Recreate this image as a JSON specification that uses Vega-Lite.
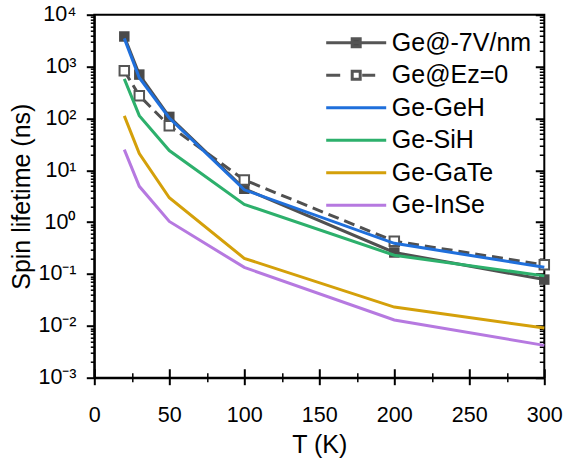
{
  "$schema": "https://vega.github.io/schema/vega-lite/v6.json",
  "autosize": "none",
  "width": 450,
  "height": 363,
  "padding": {"left": 94.3, "top": 14.7, "right": 19.7, "bottom": 84.3},
  "background": "white",
  "config": {
    "font": "Liberation Sans",
    "view": {"stroke": "black", "strokeWidth": 2},
    "axis": {
      "domainColor": "black",
      "domainWidth": 2,
      "tickColor": "black",
      "labelColor": "black",
      "labelFont": "Liberation Sans",
      "labelFontSize": 21.5,
      "titleFont": "Liberation Sans",
      "titleFontSize": 25,
      "titleFontWeight": "normal",
      "titleColor": "black",
      "gridColor": "black",
      "gridOpacity": 1
    }
  },
  "data": {
    "values": [
      {"series": "Ge@-7V/nm", "T": 20, "tau": 3800},
      {"series": "Ge@-7V/nm", "T": 30, "tau": 700},
      {"series": "Ge@-7V/nm", "T": 50, "tau": 107},
      {"series": "Ge@-7V/nm", "T": 100, "tau": 4.4},
      {"series": "Ge@-7V/nm", "T": 200, "tau": 0.26},
      {"series": "Ge@-7V/nm", "T": 300, "tau": 0.078},
      {"series": "Ge@Ez=0", "T": 20, "tau": 830},
      {"series": "Ge@Ez=0", "T": 30, "tau": 275},
      {"series": "Ge@Ez=0", "T": 50, "tau": 72},
      {"series": "Ge@Ez=0", "T": 100, "tau": 6.5},
      {"series": "Ge@Ez=0", "T": 200, "tau": 0.43},
      {"series": "Ge@Ez=0", "T": 300, "tau": 0.15},
      {"series": "Ge-GeH", "T": 20, "tau": 3500},
      {"series": "Ge-GeH", "T": 30, "tau": 610},
      {"series": "Ge-GeH", "T": 50, "tau": 102},
      {"series": "Ge-GeH", "T": 100, "tau": 4.2},
      {"series": "Ge-GeH", "T": 200, "tau": 0.39},
      {"series": "Ge-GeH", "T": 300, "tau": 0.135},
      {"series": "Ge-SiH", "T": 20, "tau": 580},
      {"series": "Ge-SiH", "T": 30, "tau": 113},
      {"series": "Ge-SiH", "T": 50, "tau": 24},
      {"series": "Ge-SiH", "T": 100, "tau": 2.2},
      {"series": "Ge-SiH", "T": 200, "tau": 0.23},
      {"series": "Ge-SiH", "T": 300, "tau": 0.092},
      {"series": "Ge-GaTe", "T": 20, "tau": 112},
      {"series": "Ge-GaTe", "T": 30, "tau": 21},
      {"series": "Ge-GaTe", "T": 50, "tau": 2.95},
      {"series": "Ge-GaTe", "T": 100, "tau": 0.2},
      {"series": "Ge-GaTe", "T": 200, "tau": 0.023},
      {"series": "Ge-GaTe", "T": 300, "tau": 0.0091},
      {"series": "Ge-InSe", "T": 20, "tau": 25},
      {"series": "Ge-InSe", "T": 30, "tau": 4.9},
      {"series": "Ge-InSe", "T": 50, "tau": 1.03},
      {"series": "Ge-InSe", "T": 100, "tau": 0.134},
      {"series": "Ge-InSe", "T": 200, "tau": 0.013},
      {"series": "Ge-InSe", "T": 300, "tau": 0.0042}
    ]
  },
  "resolve": {"axis": {"x": "independent", "y": "independent"}},
  "layer": [
    {
      "transform": [{"filter": "datum.series == 'Ge@-7V/nm'"}],
      "mark": {"type": "line", "color": "#505050", "strokeWidth": 3},
      "encoding": {
        "x": {
          "field": "T", "type": "quantitative",
          "scale": {"domain": [0, 300], "nice": false, "zero": false},
          "axis": {
            "orient": "bottom",
            "title": "T (K)",
            "titleX": 225, "titleY": 74.3, "titleBaseline": "alphabetic", "titleAlign": "center",
            "values": [0, 25, 50, 75, 100, 125, 150, 175, 200, 225, 250, 275, 300],
            "labelExpr": "datum.value % 50 == 0 ? datum.label : ''",
            "labelBaseline": "alphabetic",
            "labelPadding": 36.3,
            "labelFlush": false,
            "labelOverlap": false,
            "tickSize": {"condition": {"test": "datum.value % 50 == 0", "value": 7}, "value": 4},
            "tickWidth": {"condition": {"test": "datum.value % 50 == 0", "value": 2}, "value": 1.5},
            "grid": true,
            "gridWidth": {"condition": {"test": "datum.value % 50 == 0", "value": 2}, "value": 1.5},
            "gridDash": {"condition": {"test": "datum.value % 50 == 0", "value": [0, 354, 9, 1000]}, "value": [0, 358, 5, 1000]}
          }
        },
        "y": {
          "field": "tau", "type": "quantitative",
          "scale": {"type": "log", "domain": [0.001, 10000], "nice": false},
          "axis": {
            "orient": "left",
            "title": "Spin lifetime (ns)",
            "titleX": -65, "titleY": 181.5, "titleAngle": -90, "titleBaseline": "alphabetic", "titleAlign": "center",
            "values": [0.001, 0.002, 0.003, 0.004, 0.005, 0.006, 0.007, 0.008, 0.009, 0.01, 0.02, 0.03, 0.04, 0.05, 0.06, 0.07, 0.08, 0.09, 0.1, 0.2, 0.3, 0.4, 0.5, 0.6, 0.7, 0.8, 0.9, 1, 2, 3, 4, 5, 6, 7, 8, 9, 10, 20, 30, 40, 50, 60, 70, 80, 90, 100, 200, 300, 400, 500, 600, 700, 800, 900, 1000, 2000, 3000, 4000, 5000, 6000, 7000, 8000, 9000, 10000],
            "labelExpr": "datum.value==10000?'10⁴':datum.value==1000?'10³':datum.value==100?'10²':datum.value==10?'10¹':datum.value==1?'10⁰':datum.value==0.1?'10⁻¹':datum.value==0.01?'10⁻²':datum.value==0.001?'10⁻³':''",
            "labelPadding": 10.3,
            "labelFlush": false,
            "labelOverlap": false,
            "tickSize": {"condition": {"test": "datum.value==0.001||datum.value==0.01||datum.value==0.1||datum.value==1||datum.value==10||datum.value==100||datum.value==1000||datum.value==10000", "value": 8}, "value": 4},
            "tickWidth": {"condition": {"test": "datum.value==0.001||datum.value==0.01||datum.value==0.1||datum.value==1||datum.value==10||datum.value==100||datum.value==1000||datum.value==10000", "value": 2}, "value": 1.5},
            "grid": true,
            "gridWidth": {"condition": {"test": "datum.value==0.001||datum.value==0.01||datum.value==0.1||datum.value==1||datum.value==10||datum.value==100||datum.value==1000||datum.value==10000", "value": 2}, "value": 1.5},
            "gridDash": {"condition": {"test": "datum.value==0.001||datum.value==0.01||datum.value==0.1||datum.value==1||datum.value==10||datum.value==100||datum.value==1000||datum.value==10000", "value": [0, 441, 9, 1000]}, "value": [0, 445, 5, 1000]}
          }
        }
      }
    },
    {
      "transform": [{"filter": "datum.series == 'Ge@Ez=0'"}],
      "mark": {"type": "line", "color": "#505050", "strokeWidth": 3, "strokeDash": [11, 6]},
      "encoding": {
        "x": {"field": "T", "type": "quantitative", "axis": null},
        "y": {"field": "tau", "type": "quantitative", "axis": null}
      }
    },
    {
      "transform": [{"filter": "datum.series == 'Ge@-7V/nm'"}],
      "mark": {"type": "point", "shape": "square", "filled": true, "color": "#4a4a4a", "size": 110, "opacity": 1},
      "encoding": {
        "x": {"field": "T", "type": "quantitative", "axis": null},
        "y": {"field": "tau", "type": "quantitative", "axis": null}
      }
    },
    {
      "transform": [{"filter": "datum.series == 'Ge@Ez=0'"}],
      "mark": {"type": "point", "shape": "square", "filled": false, "fill": "white", "stroke": "#555555", "strokeWidth": 2, "size": 90, "opacity": 1},
      "encoding": {
        "x": {"field": "T", "type": "quantitative", "axis": null},
        "y": {"field": "tau", "type": "quantitative", "axis": null}
      }
    },
    {
      "transform": [{"filter": "indexof(['Ge-GeH','Ge-SiH','Ge-GaTe','Ge-InSe'], datum.series) >= 0"}],
      "mark": {"type": "line", "strokeWidth": 3},
      "encoding": {
        "x": {"field": "T", "type": "quantitative", "axis": null},
        "y": {"field": "tau", "type": "quantitative", "axis": null},
        "color": {
          "field": "series", "type": "nominal",
          "scale": {"domain": ["Ge-GeH", "Ge-SiH", "Ge-GaTe", "Ge-InSe"], "range": ["#1F6FDB", "#2DB06C", "#D4A00A", "#B679E0"]},
          "legend": null
        }
      }
    },
    {
      "mark": {"type": "point", "filled": true, "opacity": 0, "size": 100},
      "encoding": {
        "x": {"field": "T", "type": "quantitative", "axis": null},
        "y": {"field": "tau", "type": "quantitative", "axis": null},
        "shape": {
          "field": "series", "type": "nominal",
          "scale": {
            "domain": ["Ge@-7V/nm", "Ge@Ez=0", "Ge-GeH", "Ge-SiH", "Ge-GaTe", "Ge-InSe"],
            "range": ["M-6,0H6M-0.8,-0.8H0.8V0.8H-0.8Z", "M-6,0H-3.2M-0.8,-0.8H0.8V0.8H-0.8ZM1.2,0H3.8", "M-6,0H6", "M-6,0H6", "M-6,0H6", "M-6,0H6"]
          },
          "legend": {
            "title": null, "orient": "none", "legendX": 225.9, "legendY": 15.5,
            "padding": 0, "symbolSize": 100, "symbolStrokeWidth": 3, "symbolOpacity": 1,
            "symbolOffset": 23.5, "labelOffset": 23.1, "labelFontSize": 25, "labelFont": "Liberation Sans",
            "labelColor": "black", "labelLimit": 0, "rowPadding": 6.5, "labelBaseline": "middle"
          }
        },
        "fill": {
          "field": "series", "type": "nominal",
          "scale": {
            "domain": ["Ge@-7V/nm", "Ge@Ez=0", "Ge-GeH", "Ge-SiH", "Ge-GaTe", "Ge-InSe"],
            "range": ["#4a4a4a", "white", "transparent", "transparent", "transparent", "transparent"]
          },
          "legend": {
            "title": null, "orient": "none", "legendX": 225.9, "legendY": 15.5,
            "padding": 0, "symbolSize": 100, "symbolStrokeWidth": 3, "symbolOpacity": 1,
            "symbolOffset": 23.5, "labelOffset": 23.1, "labelFontSize": 25, "labelFont": "Liberation Sans",
            "labelColor": "black", "labelLimit": 0, "rowPadding": 6.5, "labelBaseline": "middle"
          }
        },
        "stroke": {
          "field": "series", "type": "nominal",
          "scale": {
            "domain": ["Ge@-7V/nm", "Ge@Ez=0", "Ge-GeH", "Ge-SiH", "Ge-GaTe", "Ge-InSe"],
            "range": ["#555555", "#555555", "#1F6FDB", "#2DB06C", "#D4A00A", "#B679E0"]
          },
          "legend": {
            "title": null, "orient": "none", "legendX": 225.9, "legendY": 15.5,
            "padding": 0, "symbolSize": 100, "symbolStrokeWidth": 3, "symbolOpacity": 1,
            "symbolOffset": 23.5, "labelOffset": 23.1, "labelFontSize": 25, "labelFont": "Liberation Sans",
            "labelColor": "black", "labelLimit": 0, "rowPadding": 6.5, "labelBaseline": "middle"
          }
        }
      }
    }
  ]
}
